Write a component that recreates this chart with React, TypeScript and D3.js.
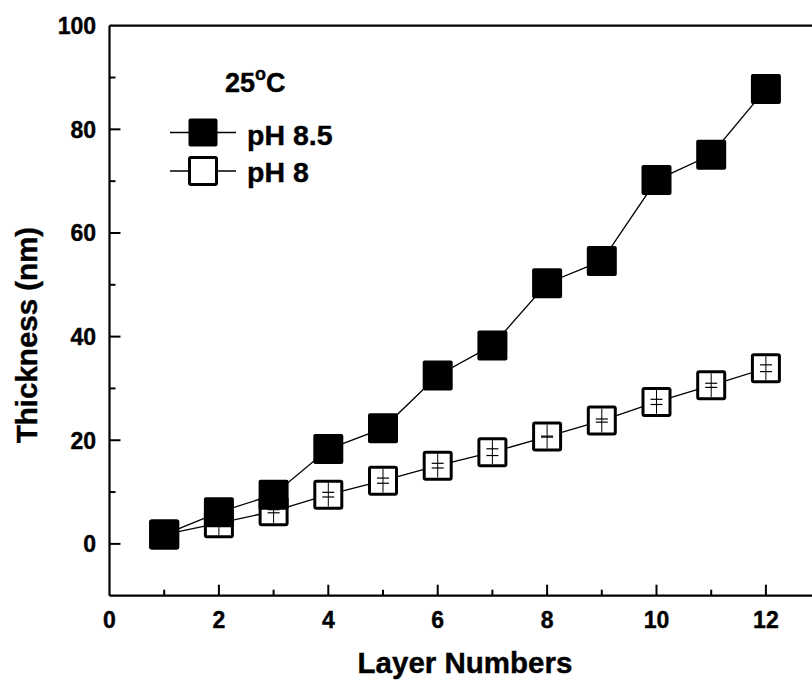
import { useMemo } from 'react';
import * as d3 from 'd3';

const layers = [1, 2, 3, 4, 5, 6, 7, 8, 9, 10, 11, 12];
const thickPH85 = [1.8, 6.1, 9.5, 18.3, 22.3, 32.5, 38.3, 50.3, 54.6, 70.2, 75.1, 87.8];
const thickPH8 = [1.8, 4.0, 6.3, 9.5, 12.2, 15.1, 17.7, 20.7, 23.8, 27.4, 30.6, 33.9];
const errPH8 = [0, 0.2, 0.3, 0.45, 0.5, 0.45, 0.65, 0.1, 0.3, 0.5, 0.4, 0.65];
const xMajor = [0, 2, 4, 6, 8, 10, 12];
const xMinor = [1, 3, 5, 7, 9, 11, 13];
const yMajor = [0, 20, 40, 60, 80, 100];
const yMinor = [10, 30, 50, 70, 90];

const W = 812;
const H = 682;
const font = '"Liberation Sans", Arial, sans-serif';

export default function App() {
    const x = useMemo(() => d3.scaleLinear().domain([0, 13]).range([109.5, 109.5 + 13 * 54.7]), []);
    const y = useMemo(() => d3.scaleLinear().domain([-10, 100]).range([595.7, 25.7]), []);

    const line = d3.line<number>()
        .x((_, i) => x(layers[i]))
        .y((d) => y(d));

    const left = x(0);
    const bottom = y(-10);
    const top = y(100);
    const sq = 30;
    const osq = 27;
    const heavy = { stroke: '#000', strokeWidth: 0.4 };

    return (
        <svg width={W} height={H} style={{ position: 'absolute', left: 0, top: 0 }} fontFamily={font}>
            <rect width={W} height={H} fill="#fff" />
            {/* frame */}
            <line x1={left} x2={x(13)} y1={top} y2={top} stroke="#000" strokeWidth={2.2} />
            <line x1={left} x2={x(13)} y1={bottom} y2={bottom} stroke="#000" strokeWidth={2.2} />
            <line x1={left} x2={left} y1={top} y2={bottom} stroke="#000" strokeWidth={2.2} />

            {/* ticks */}
            {xMajor.map((t) => (
                <g key={'xM' + t}>
                    {t > 0 && <line x1={x(t)} x2={x(t)} y1={bottom} y2={bottom - 11} stroke="#000" strokeWidth={2} />}
                    <text x={x(t)} y={628} textAnchor="middle" fontSize={23} fontWeight="bold" {...heavy}>{t}</text>
                </g>
            ))}
            {xMinor.map((t) => (
                <line key={'xm' + t} x1={x(t)} x2={x(t)} y1={bottom} y2={bottom - 6} stroke="#000" strokeWidth={2} />
            ))}
            {yMajor.map((t) => (
                <g key={'yM' + t}>
                    {t < 100 && <line x1={left} x2={left + 11} y1={y(t)} y2={y(t)} stroke="#000" strokeWidth={2} />}
                    <text x={96} y={y(t)} dy="0.36em" textAnchor="end" fontSize={23} fontWeight="bold" {...heavy}>{t}</text>
                </g>
            ))}
            {yMinor.map((t) => (
                <line key={'ym' + t} x1={left} x2={left + 6} y1={y(t)} y2={y(t)} stroke="#000" strokeWidth={2} />
            ))}

            {/* axis titles */}
            <text x={465} y={673} textAnchor="middle" fontSize={29.5} fontWeight="bold" {...heavy}>Layer Numbers</text>
            <text transform="translate(37,335) rotate(-90)" textAnchor="middle" fontSize={29.5} fontWeight="bold" {...heavy}>Thickness (nm)</text>

            {/* lines */}
            <path d={line(thickPH8) || ''} fill="none" stroke="#000" strokeWidth={1.3} />
            <path d={line(thickPH85) || ''} fill="none" stroke="#000" strokeWidth={1.3} />

            {/* open markers with error bars */}
            {thickPH8.map((v, i) => {
                const cx = x(layers[i]);
                const cy = y(v);
                const e = errPH8[i];
                return (
                    <g key={'o' + i}>
                        <rect x={cx - osq / 2} y={cy - osq / 2} width={osq} height={osq} fill="#fff" stroke="#000" strokeWidth={3} rx={1.5} />
                        <line x1={cx} x2={cx} y1={cy - osq / 2 + 1.5} y2={cy + osq / 2 - 1.5} stroke="#000" strokeWidth={1} />
                        <line x1={cx - 6} x2={cx + 6} y1={y(v + e)} y2={y(v + e)} stroke="#000" strokeWidth={1.2} />
                        <line x1={cx - 6} x2={cx + 6} y1={y(v - e)} y2={y(v - e)} stroke="#000" strokeWidth={1.2} />
                    </g>
                );
            })}

            {/* filled markers */}
            {thickPH85.map((v, i) => (
                <rect key={'f' + i} x={x(layers[i]) - sq / 2} y={y(v) - sq / 2} width={sq} height={sq} fill="#000" rx={2} />
            ))}

            {/* legend */}
            <text x={225} y={92} fontSize={27} fontWeight="bold" {...heavy}>25<tspan dy={-12} fontSize={18}>o</tspan><tspan dy={12}>C</tspan></text>
            <line x1={170} x2={236} y1={132.5} y2={132.5} stroke="#000" strokeWidth={1.3} />
            <rect x={203 - 14.5} y={132.5 - 14} width={29} height={28} fill="#000" rx={2} />
            <text x={247} y={145} fontSize={28.5} fontWeight="bold" {...heavy}>pH 8.5</text>
            <line x1={170} x2={236} y1={171} y2={171} stroke="#000" strokeWidth={1.3} />
            <rect x={203 - 13.5} y={171 - 13.5} width={27} height={27} fill="#fff" stroke="#000" strokeWidth={3} rx={1.5} />
            <text x={247} y={182} fontSize={28.5} fontWeight="bold" {...heavy}>pH 8</text>
        </svg>
    );
}
